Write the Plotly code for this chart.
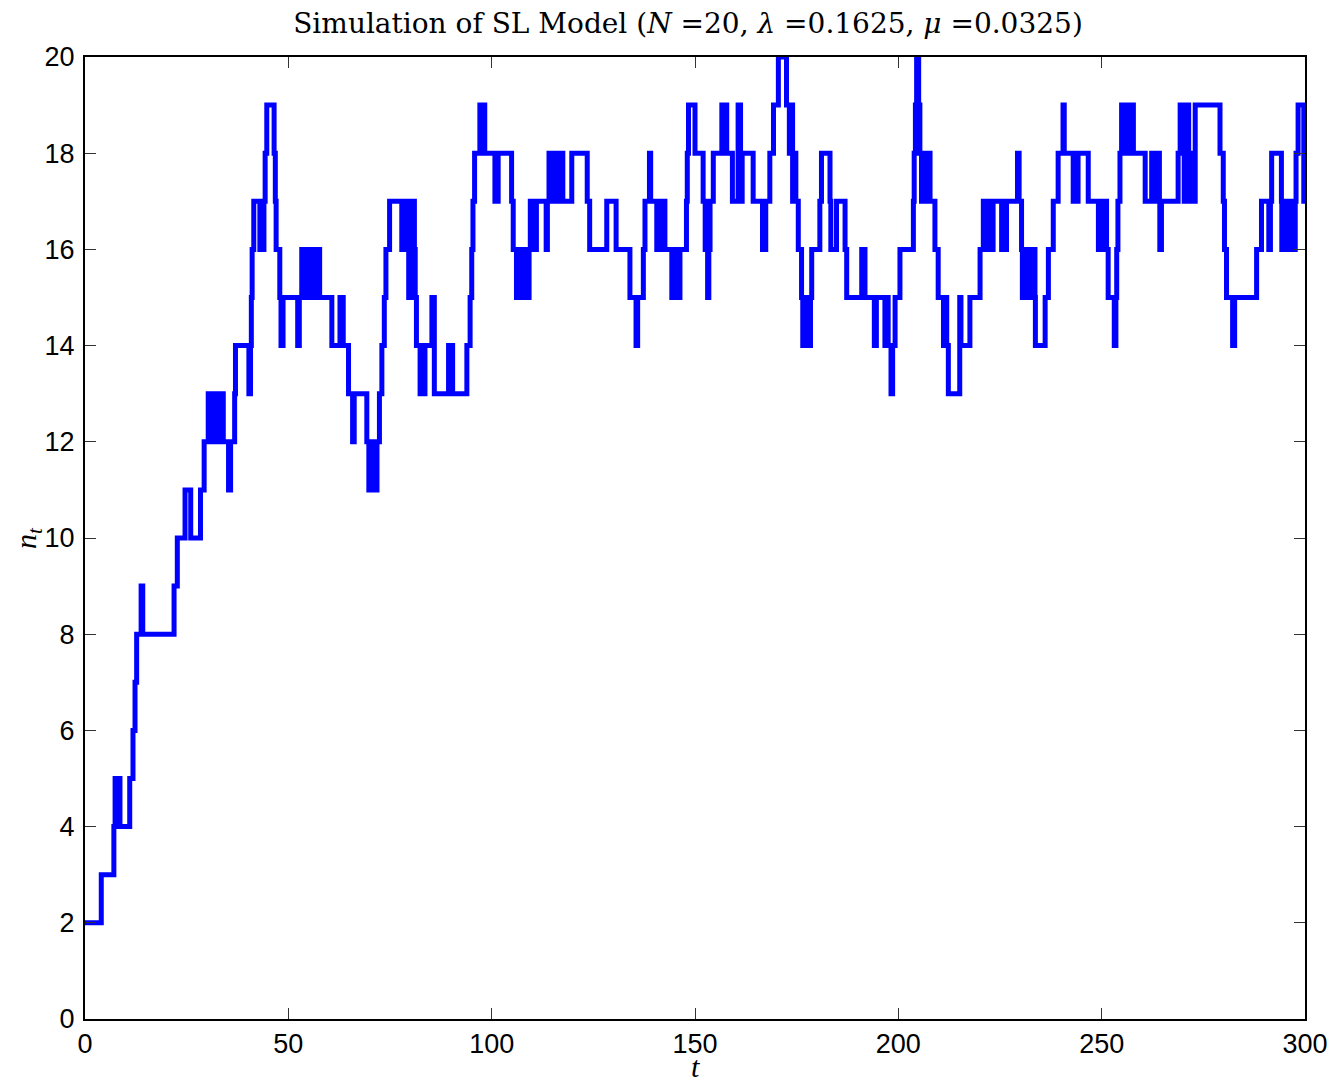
import plotly.graph_objects as go

# Jump times t and the population level n_t held from that time on (stairs)
t_jump = [0, 4.0, 7.1, 7.4, 7.8, 8.1, 8.6, 11.0, 11.8, 12.3, 12.7, 13.8, 14.2, 21.9, 22.7, 24.6, 26.0, 28.4, 29.3, 30.3,
          31.5, 32.4, 33.0, 33.4, 34.0, 35.3, 35.8, 36.8, 37.0, 40.3, 40.7, 40.9, 41.1, 41.5, 43.0, 43.3, 43.8, 44.0, 44.3, 44.7,
          46.5, 46.8, 47.0, 47.9, 48.2, 48.7, 52.3, 52.7, 53.3, 53.8, 54.1, 55.0, 55.3, 55.8, 56.2, 56.6, 57.0, 57.7, 60.7, 62.7,
          63.5, 64.8, 65.8, 66.2, 69.3, 69.8, 70.3, 70.6, 71.0, 71.2, 71.8, 72.4, 73.0, 73.6, 74.0, 74.9, 77.9, 78.3, 78.8, 79.1,
          79.6, 80.0, 80.4, 80.7, 81.0, 81.2, 81.5, 82.4, 83.6, 85.3, 85.9, 89.4, 90.4, 93.9, 94.7, 95.1, 95.4, 95.8, 97.1, 98.3,
          100.8, 101.6, 104.9, 105.3, 106.1, 106.6, 106.9, 107.5, 107.8, 108.3, 108.6, 109.2, 109.5, 109.9, 110.2, 110.6, 111.0, 113.4, 113.7, 114.1,
          114.5, 114.8, 115.4, 115.7, 116.1, 116.5, 117.5, 119.7, 123.5, 124.1, 128.3, 130.6, 134.0, 135.5, 135.9, 137.3, 137.7, 138.8, 139.1, 140.6,
          141.8, 142.6, 144.3, 144.8, 145.1, 145.6, 145.9, 146.3, 147.9, 148.1, 148.4, 150.0, 152.0, 152.5, 153.1, 153.4, 153.7, 154.5, 156.6, 157.8,
          159.2, 160.6, 161.2, 161.6, 164.3, 166.6, 167.4, 168.4, 169.3, 170.5, 172.5, 173.2, 173.6, 174.0, 174.3, 174.8, 175.4, 176.2, 176.5, 176.9,
          177.2, 177.7, 178.0, 178.4, 178.7, 180.7, 181.1, 183.2, 183.4, 184.8, 186.9, 187.3, 191.0, 191.8, 194.1, 194.6, 196.7, 197.2, 197.5, 198.2,
          198.6, 199.2, 200.4, 203.7, 203.9, 204.2, 204.5, 205.0, 205.3, 205.7, 206.2, 206.6, 207.0, 207.8, 209.0, 209.8, 211.1, 211.5, 211.9, 212.3,
          215.1, 215.4, 217.6, 220.1, 220.9, 221.4, 221.8, 222.2, 222.6, 223.0, 223.3, 225.4, 226.6, 229.3, 229.7, 230.3, 230.5, 231.0, 231.3, 231.8,
          232.1, 232.6, 233.6, 233.7, 236.1, 236.9, 238.1, 239.3, 240.5, 240.8, 243.0, 243.4, 243.8, 244.2, 246.7, 249.2, 249.5, 249.7, 250.0, 251.2,
          251.6, 253.1, 253.5, 253.7, 254.0, 254.5, 254.9, 255.7, 256.1, 256.5, 256.9, 257.2, 257.5, 257.8, 260.7, 262.3, 262.8, 263.1, 263.6, 263.8,
          264.2, 264.3, 264.7, 268.8, 269.3, 270.3, 270.9, 271.4, 271.9, 272.1, 273.0, 279.1, 279.9, 280.2, 280.7, 282.2, 282.7, 288.1, 289.3, 291.1,
          291.5, 291.8, 294.2, 294.3, 294.7, 295.1, 295.4, 295.8, 296.2, 296.6, 297.0, 297.3, 297.6, 297.8, 298.3, 299.7, 300.0]
n_level = [2, 3, 4, 5, 4, 5, 4, 5, 6, 7, 8, 9, 8, 9, 10, 11, 10, 11, 12, 13,
           12, 13, 12, 13, 12, 11, 12, 13, 14, 13, 14, 15, 16, 17, 16, 17, 16, 17, 18, 19,
           18, 17, 16, 15, 14, 15, 14, 15, 16, 15, 16, 15, 16, 15, 16, 15, 16, 15, 14, 15,
           14, 13, 12, 13, 12, 11, 12, 11, 12, 11, 12, 13, 14, 15, 16, 17, 16, 17, 16, 17,
           15, 17, 15, 17, 16, 15, 14, 13, 14, 15, 13, 14, 13, 14, 15, 16, 17, 18, 19, 18,
           17, 18, 17, 16, 15, 16, 15, 16, 15, 16, 15, 16, 17, 16, 17, 16, 17, 16, 17, 18,
           17, 18, 17, 18, 17, 18, 17, 18, 17, 16, 17, 16, 15, 14, 15, 16, 17, 18, 17, 16,
           17, 16, 15, 16, 15, 16, 15, 16, 17, 18, 19, 18, 17, 16, 15, 16, 17, 18, 19, 18,
           17, 19, 17, 18, 17, 16, 17, 18, 19, 20, 19, 18, 19, 17, 18, 17, 16, 15, 14, 15,
           14, 15, 14, 15, 16, 17, 18, 17, 16, 17, 16, 15, 16, 15, 14, 15, 14, 15, 14, 13,
           14, 15, 16, 17, 18, 19, 20, 19, 18, 17, 18, 17, 18, 17, 16, 15, 14, 15, 14, 13,
           15, 14, 15, 16, 17, 16, 17, 16, 17, 16, 17, 16, 17, 18, 17, 16, 15, 16, 15, 16,
           15, 16, 15, 14, 15, 16, 17, 18, 19, 18, 17, 18, 17, 18, 17, 16, 17, 16, 17, 16,
           15, 14, 15, 16, 17, 18, 19, 18, 19, 18, 19, 18, 19, 18, 17, 18, 17, 18, 17, 18,
           17, 16, 17, 18, 19, 17, 19, 17, 18, 17, 19, 18, 17, 16, 15, 14, 15, 16, 17, 16,
           17, 18, 17, 16, 17, 16, 17, 16, 17, 16, 17, 16, 17, 18, 19, 17, 17]

x_ticks = [0, 50, 100, 150, 200, 250, 300]
y_ticks = [0, 2, 4, 6, 8, 10, 12, 14, 16, 18, 20]

fig = go.Figure()
fig.add_trace(go.Scatter(x=t_jump, y=n_level, mode="lines",
                         line=dict(color="#0000FF", width=5, shape="hv"),
                         showlegend=False))

W, H = 1332, 1085
ML, MR, MT, MB = 85, 27, 57, 66
PW, PH = W - ML - MR, H - MT - MB

tick_font = dict(family="Liberation Sans, Arial, sans-serif", size=27, color="black")
lab_font = dict(family="Liberation Serif, Times New Roman, serif", size=30, color="black")
fig.update_layout(
    width=W, height=H,
    margin=dict(l=ML, r=MR, t=MT, b=MB, autoexpand=False),
    paper_bgcolor="white", plot_bgcolor="white",
    title=dict(text="Simulation of SL Model (<i>N</i> =20, <i>λ</i> =0.1625, <i>μ</i> =0.0325)",
               x=688 / W, xref="container", xanchor="center",
               y=1 - 23 / H, yref="container", yanchor="middle",
               font=dict(family="DejaVu Serif, serif", size=28, color="black")),
    xaxis=dict(range=[0, 300], tickvals=x_ticks, ticks="inside", ticklen=11, tickwidth=1,
               tickcolor="#333333", showline=True, linecolor="black", linewidth=2,
               mirror="allticks", showgrid=False, zeroline=False, tickfont=tick_font,
               ticklabeloverflow="allow", automargin=False),
    yaxis=dict(range=[0, 20], tickvals=y_ticks, ticks="inside", ticklen=11, tickwidth=1,
               tickcolor="#333333", showline=True, linecolor="black", linewidth=2,
               mirror="allticks", showgrid=False, zeroline=False, tickfont=tick_font,
               ticklabelstandoff=3, ticklabeloverflow="allow", automargin=False),
    annotations=[
        dict(text="<i>t</i>", xref="paper", yref="paper", x=0.5, y=-MB / PH,
             xanchor="center", yanchor="bottom", showarrow=False, font=lab_font),
        dict(text="<i>n<sub>t</sub></i>", xref="paper", yref="paper", x=(28 - ML) / PW, y=0.5,
             xanchor="center", yanchor="middle", textangle=-90, showarrow=False, font=lab_font),
    ],
)

fig.write_html("out.html", config={"displayModeBar": False},
               post_script="document.body.style.margin='0';document.body.style.overflow='hidden';")
